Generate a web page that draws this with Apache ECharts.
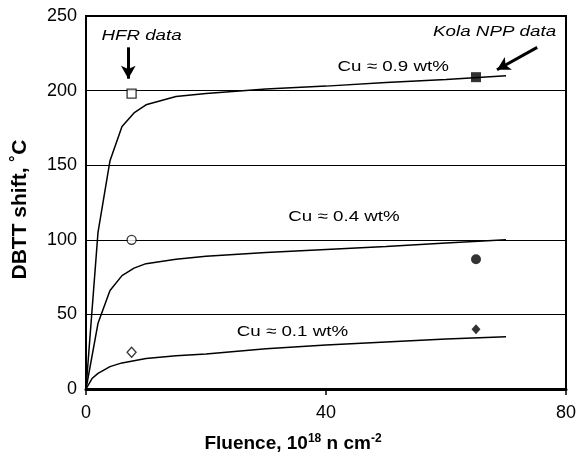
<!DOCTYPE html>
<html>
<head>
<meta charset="utf-8">
<script src="https://cdn.jsdelivr.net/npm/echarts@6/dist/echarts.min.js"></script>
<style>
  html, body { margin: 0; padding: 0; background: #fff; }
  #chart { width: 585px; height: 455px; }
</style>
</head>
<body>
<div id="chart"></div>
<script>
// fitted trend curves, [fluence, DBTT shift]
var cu09Curve = [[0,0],[2,105],[4,153],[6,176],[8,185],[10,190.5],[15,196],[20,198],[30,201],[40,203],[50,205.5],[60,207.5],[70,210]]
var cu04Curve = [[0,0],[2,44],[4,66],[6,76],[8,81],[10,84],[15,87],[20,89],[30,91.5],[40,93.5],[50,95.5],[60,97.8],[70,100]]
var cu01Curve = [[0,0],[1,7],[2,10.5],[4,15],[6,17.5],[10,20.5],[15,22.3],[20,23.5],[30,27],[40,29.5],[50,31.5],[60,33.5],[70,35]]

// measured points
var hfrSquare = [[7.6, 198]]
var hfrCircle = [[7.6, 100]]
var hfrDiamond = [[7.6, 24.6]]
var kolaSquare = [[65, 209]]
var kolaCircle = [[65, 87]]
var kolaDiamond = [[65, 40]]

// annotations (data coords)
var labels = [
  { text: 'HFR data', at: [9.25, 237], italic: true },
  { text: 'Kola NPP data', at: [68.1, 239.3], italic: true },
  { text: 'Cu \u2248 0.9 wt%', at: [51.2, 215.8] },
  { text: 'Cu \u2248 0.4 wt%', at: [43, 115.3] },
  { text: 'Cu \u2248 0.1 wt%', at: [34.4, 38.2] }
]
var arrows = [
  [[7.05, 229], [7.05, 208]],
  [[75.2, 229], [68.5, 214]]
]

var chart = echarts.init(document.getElementById('chart'))

function curve(data) {
  return {
    type: 'line', data: data, symbol: 'none', smooth: false,
    lineStyle: { color: '#000', width: 1.5 }, z: 3
  }
}
function marker(data, symbol, size, filled) {
  return {
    type: 'scatter', data: data, symbol: symbol, symbolSize: size,
    itemStyle: { color: filled ? '#000' : '#fff', borderColor: '#000', borderWidth: filled ? 0 : 1.3 },
    z: 5
  }
}

var arrowSeries = {
  type: 'line', data: [], symbol: 'none',
  markLine: {
    silent: true, symbol: ['none', 'arrow'], symbolSize: [11, 13],
    label: { show: false },
    lineStyle: { color: '#000', width: 3, type: 'solid' },
    data: arrows.map(function (a) { return [{ coord: a[0] }, { coord: a[1] }] })
  }
}

chart.setOption({
  animation: false,
  grid: {
    left: 86, right: 19, top: 16, bottom: 66, outerBoundsMode: 'none', containLabel: false,
    show: true, borderColor: '#000', borderWidth: 2
  },
  xAxis: {
    type: 'value', min: 0, max: 80, interval: 40,
    axisLine: { lineStyle: { color: '#000', width: 3 } },
    axisTick: { show: true, length: 6, lineStyle: { color: '#000', width: 1.5 } },
    axisLabel: { color: '#000', fontSize: 18, fontFamily: 'Liberation Sans', margin: 15 },
    splitLine: { show: false },
    name: 'Fluence, 10{sup|18} n cm{sup|-2}',
    nameLocation: 'middle', nameGap: 44,
    nameTextStyle: {
      color: '#000', fontSize: 19, fontWeight: 'bold', fontFamily: 'Liberation Sans',
      padding: [0, 66, 0, 0],
      rich: { sup: { fontSize: 12, fontWeight: 'bold', verticalAlign: 'top', padding: [0, 0, 9, 0] } }
    }
  },
  yAxis: {
    type: 'value', min: 0, max: 250, interval: 50,
    axisLine: { show: true, lineStyle: { color: '#000', width: 2 } },
    axisTick: { show: false },
    axisLabel: { color: '#000', fontSize: 18, fontFamily: 'Liberation Sans', margin: 9 },
    splitLine: { show: true, lineStyle: { color: '#000', width: 1 } },
    name: 'DBTT shift, \u02daC',
    nameLocation: 'middle', nameGap: 55,
    nameTextStyle: {
      color: '#000', fontSize: 21, fontWeight: 'bold', fontFamily: 'Liberation Sans',
      padding: [0, 14, 0, 0]
    }
  },
  series: [
    curve(cu09Curve), curve(cu04Curve), curve(cu01Curve),
    marker(hfrSquare, 'rect', 9, false),
    marker(hfrCircle, 'circle', 9, false),
    marker(hfrDiamond, 'diamond', [9, 10], false),
    marker(kolaSquare, 'rect', 10, true),
    marker(kolaCircle, 'circle', 10, true),
    marker(kolaDiamond, 'diamond', [9, 10], true),
    arrowSeries
  ]
})

chart.setOption({
  graphic: labels.map(function (l) {
    var p = chart.convertToPixel({ gridIndex: 0 }, l.at)
    return {
      type: 'text', x: p[0], y: p[1], z: 10, scaleX: 1.25,
      style: {
        text: l.text, fill: '#000', fontSize: 15, fontFamily: 'Liberation Sans',
        fontStyle: l.italic ? 'italic' : 'normal', align: 'center', verticalAlign: 'middle'
      }
    }
  })
})
</script>
</body>
</html>
